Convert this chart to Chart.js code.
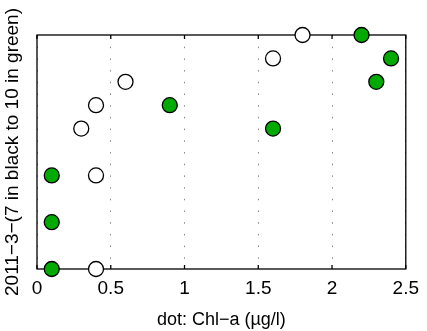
<!DOCTYPE html>
<html>
<head>
<meta charset="utf-8">
<script src="https://cdn.jsdelivr.net/npm/chart.js@4"></script>
<style>
  html, body { margin: 0; padding: 0; background: #fff; }
</style>
</head>
<body>
<canvas id="chartId" width="427" height="331"></canvas>
<script>
// 2011-3 values: x = Chl-a (µg/l), y = rank level
const blackX = [0.4, 0.4, 0.3, 0.4, 0.6, 1.6, 1.8];
const blackY = [0, 4, 6, 7, 8, 9, 10];
const greenX = [0.1, 0.1, 0.1, 0.9, 1.6, 2.2, 2.4, 2.3];
const greenY = [0, 2, 4, 7, 6, 10, 9, 8];
const xTicks = [0, 0.5, 1, 1.5, 2, 2.5];

function toPoints(xs, ys) {
    const pts = [];
    for (let i = 0; i < xs.length; i++) {
        pts.push({ x: xs[i], y: ys[i] });
    }
    return pts;
}

// box round the plot and small inward ticks on x
const framePlugin = {
    id: 'frame',
    beforeDatasetsDraw(chart) {
        const ctx = chart.ctx;
        const a = chart.chartArea;
        const xs = chart.scales.x;
        ctx.save();
        ctx.strokeStyle = '#000';
        ctx.lineWidth = 1.3;
        ctx.setLineDash([]);
        xTicks.forEach(function (v) {
            const px = xs.getPixelForValue(v);
            ctx.beginPath();
            ctx.moveTo(px, a.bottom);
            ctx.lineTo(px, a.bottom - 4);
            ctx.moveTo(px, a.top);
            ctx.lineTo(px, a.top + 4);
            ctx.stroke();
        });
        ctx.strokeRect(a.left, a.top, a.right - a.left, a.bottom - a.top);
        ctx.restore();
    }
};

var chrt = document.getElementById("chartId").getContext("2d");
var chartId = new Chart(chrt, {
    type: 'scatter',
    data: {
        datasets: [{
            label: 'black',
            data: toPoints(blackX, blackY),
            backgroundColor: '#ffffff',
            borderColor: '#000000',
            borderWidth: 1.3,
            pointRadius: 7.5,
            clip: false,
        }, {
            label: 'green',
            data: toPoints(greenX, greenY),
            backgroundColor: '#00aa00',
            borderColor: '#000000',
            borderWidth: 1.3,
            pointRadius: 7.5,
            clip: false,
        }],
    },
    options: {
        responsive: false,
        animation: false,
        layout: { padding: { left: 0, right: 17, top: 35, bottom: 0 } },
        plugins: {
            legend: { display: false },
            tooltip: { enabled: false },
        },
        scales: {
            x: {
                type: 'linear',
                min: 0,
                max: 2.5,
                afterBuildTicks: function (scale) {
                    scale.ticks = xTicks.map(function (v) { return { value: v }; });
                },
                afterFit: function (scale) { scale.height = 62; },
                border: { display: false, dash: [1.5, 10.2] },
                grid: {
                    drawTicks: false,
                    color: '#888',
                    lineWidth: 1,
                },
                ticks: {
                    padding: 8,
                    color: '#000',
                    font: { family: 'Liberation Sans', size: 19 },
                    maxRotation: 0,
                    autoSkip: false,
                    callback: function (v) { return String(v); },
                },
                title: {
                    display: true,
                    text: 'dot: Chl\u2212a (\u00b5g/l)',
                    color: '#000',
                    font: { family: 'Liberation Sans', size: 18 },
                    padding: { top: 0, bottom: 0 },
                },
            },
            y: {
                type: 'linear',
                min: 0,
                max: 10,
                afterFit: function (scale) { scale.width = 37; },
                border: { display: false },
                grid: { display: false, drawTicks: false },
                ticks: { display: false },
                title: {
                    display: true,
                    text: '2011\u22123\u2212(7 in black to 10 in green)',
                    color: '#000',
                    font: { family: 'Liberation Sans', size: 19 },
                    padding: { top: 1, bottom: 0 },
                },
            },
        },
    },
    plugins: [framePlugin],
});
</script>
</body>
</html>
